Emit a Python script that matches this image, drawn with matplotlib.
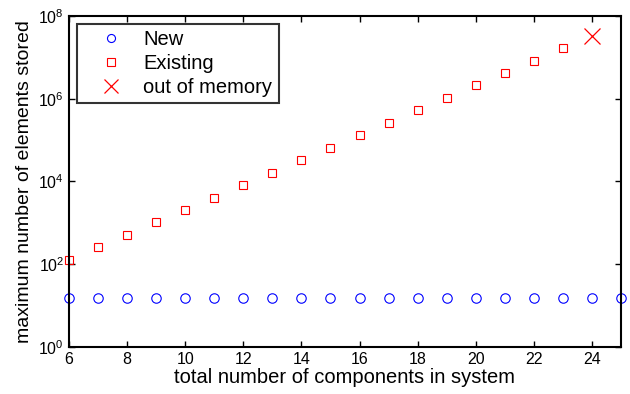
import matplotlib
matplotlib.use("Agg")
import matplotlib.pyplot as plt
import numpy as np

plt.rcParams['font.family'] = ['Liberation Sans', 'DejaVu Sans']
plt.rcParams['mathtext.fontset'] = 'custom'
plt.rcParams['mathtext.rm'] = 'Liberation Sans'
plt.rcParams['mathtext.it'] = 'Liberation Sans'

new_x = list(range(6, 26))
new_y = [15] * 20
exist_x = list(range(6, 24))
exist_y = [128, 256, 512, 1024, 2048, 4096, 8192, 16384, 32768, 65536, 131072,
           262144, 524288, 1048576, 2097152, 4194304, 8388608, 16777216]
oom_x = [24]
oom_y = [33554432]

fig = plt.figure(figsize=(6.3, 3.94), dpi=100)
ax = fig.add_axes([0.1095, 0.1193, 0.8762, 0.8401])
ax.plot(new_x, new_y, 'o', mfc='none', mec='#0000ff', ms=6.8, mew=0.8, label='New', clip_on=False)
ax.plot(exist_x, exist_y, 's', mfc='none', mec='#ff0000', ms=6, mew=0.8, label='Existing', clip_on=False)
ax.plot(oom_x, oom_y, 'x', color='#ff0000', ms=11.5, mew=0.9, label='out of memory', clip_on=False)

ax.set_yscale('log')
ax.set_xlim(6, 25)
ax.set_ylim(1, 1e8)
ax.set_xticks(range(6, 26, 2))
ax.set_yticks([1, 1e2, 1e4, 1e6, 1e8])
ax.set_yticklabels([r'$10^{0}$', r'$10^{2}$', r'$10^{4}$', r'$10^{6}$', r'$10^{8}$'])
ax.minorticks_off()
ax.tick_params(direction='in', top=True, right=True, labelsize=11.5, length=4, width=1)
for s in ax.spines.values():
    s.set_linewidth(1.5)
ax.set_xlabel('total number of components in system', fontsize=14.5, labelpad=1)
ax.set_ylabel('maximum number of elements stored', fontsize=14, labelpad=4)
leg = ax.legend(loc='upper left', fontsize=14.5, frameon=True, fancybox=False,
                edgecolor='black', borderpad=0.3, handletextpad=0.25, labelspacing=0.25,
                handlelength=2.75, bbox_to_anchor=(0.0, 1.0), borderaxespad=0.4, markerscale=0.85)
leg.get_frame().set_linewidth(1.5)
fig.savefig('out.png', dpi=100)
